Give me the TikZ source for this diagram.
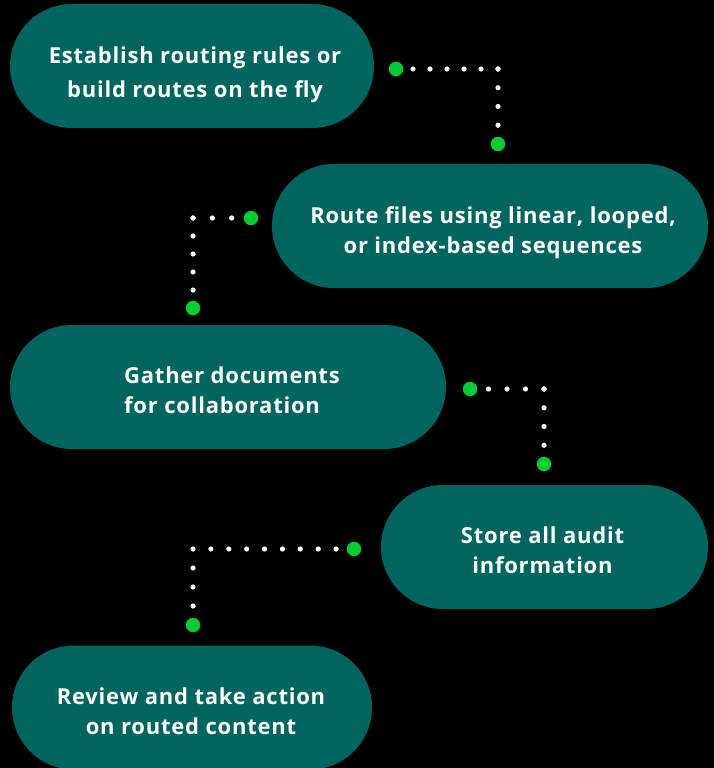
\documentclass[tikz,border=0pt]{standalone}
\usepackage{fontspec}
\setmainfont{Open Sans}[LetterSpace=3.5]
\definecolor{pillteal}{HTML}{00645F}
\definecolor{dotgreen}{HTML}{00CC33}
\begin{document}
\begin{tikzpicture}[x=1pt,y=-1pt,
  pill/.style={draw=none,fill=pillteal,rounded corners=61.9pt,minimum height=124pt,inner sep=0pt},
  ptext/.style={text=white,align=center,inner sep=0pt,
    font=\fontsize{22}{30}\selectfont\bfseries},
  gdot/.style={circle,fill=dotgreen,draw=none,minimum size=14.5pt,inner sep=0pt},
  wdots/.style={draw=white,line width=5.2pt,line cap=round,dash pattern=on 0pt off #1}
]
\useasboundingbox[fill=black] (0,0) rectangle (714,768);

% pills
\node[pill,minimum width=364pt] (p1) at (192,66) {};
\node[pill,minimum width=436pt] (p2) at (490,226) {};
\node[pill,minimum width=436pt] (p3) at (228,387) {};
\node[pill,minimum width=327pt] (p4) at (544.5,547) {};
\node[pill,minimum width=360pt] (p5) at (192,707.5) {};

% texts
\node[ptext,font=\fontsize{22}{33.5}\selectfont\bfseries] (t1) at ([xshift=3pt,yshift=-9pt]p1.center) {Establish routing rules or\\build routes on the fly};
\node[ptext] (t2) at ([xshift=3pt,yshift=-7pt]p2.center) {Route files using linear, looped,\\or index-based sequences};
\node[ptext,align=left] (t3) at ([xshift=4pt,yshift=-3.5pt]p3.center) {Gather documents\\for collaboration};
\node[ptext] (t4) at ([xshift=-2pt,yshift=-3.5pt]p4.center) {Store all audit\\information};
\node[ptext] (t5) at ([xshift=-1pt,yshift=-3.5pt]p5.center) {Review and take action\\on routed content};

% connector coordinates
\coordinate (a1) at (396,69);  \coordinate (c1) at (498,69);  \coordinate (b1) at (498,144);
\coordinate (a2) at (251,218); \coordinate (c2) at (193,218); \coordinate (b2) at (193,308);
\coordinate (a3) at (470,389); \coordinate (c3) at (544,389); \coordinate (b3) at (544,464);
\coordinate (a4) at (354,549); \coordinate (c4) at (193,549); \coordinate (b4) at (193,625);

% dotted connectors
\draw[wdots=17pt] (a1) -- (c1);
\draw[wdots=18.75pt] (c1) -- (b1);
\draw[wdots=19.33pt] (a2) -- (c2);
\draw[wdots=18pt] (c2) -- (b2);
\draw[wdots=18.5pt] (a3) -- (c3);
\draw[wdots=18.75pt] (c3) -- (b3);
\draw[wdots=17.89pt] (a4) -- (c4);
\draw[wdots=19pt] (c4) -- (b4);

% green end dots
\node[gdot] (g1a) at (a1) {}; \node[gdot] (g1b) at (b1) {};
\node[gdot] (g2a) at (a2) {}; \node[gdot] (g2b) at (b2) {};
\node[gdot] (g3a) at (a3) {}; \node[gdot] (g3b) at (b3) {};
\node[gdot] (g4a) at (a4) {}; \node[gdot] (g4b) at (b4) {};
\end{tikzpicture}
\end{document}
